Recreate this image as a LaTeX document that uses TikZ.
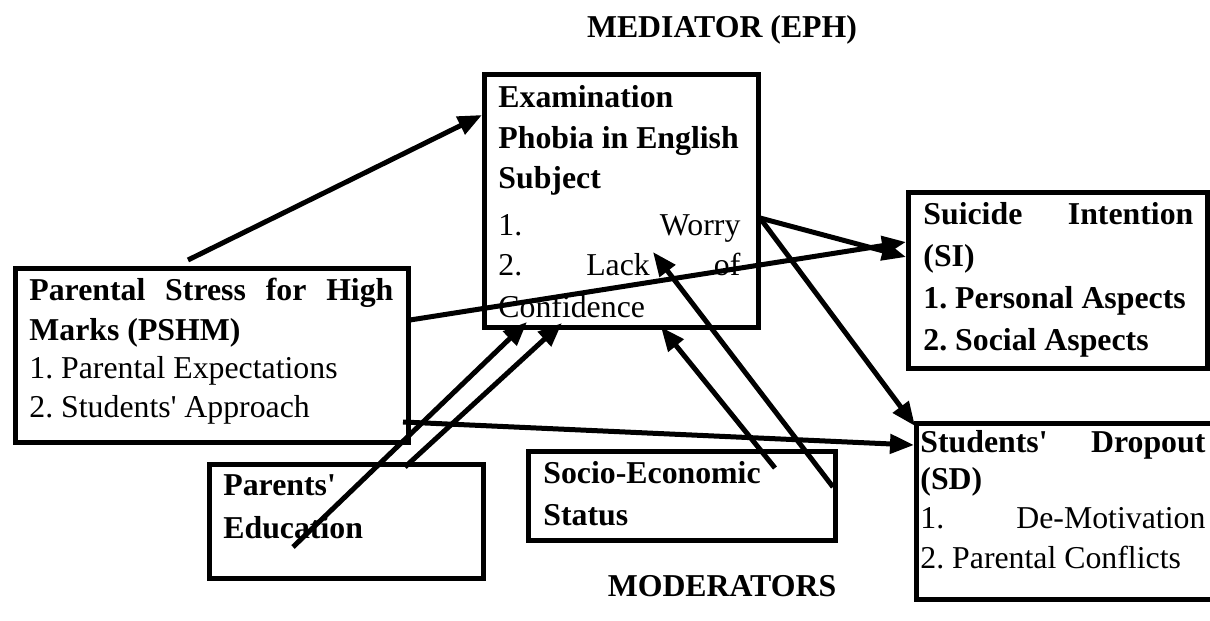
\documentclass[tikz,border=0pt]{standalone}
\usepackage{fontspec}
\setmainfont{Liberation Serif}[Ligatures=TeXOff]
\usetikzlibrary{arrows.meta}
\begin{document}
\frenchspacing
\begin{tikzpicture}[x=0.5pt,y=-0.5pt,
  box/.style={draw=black,line width=2.5pt,inner sep=0pt,outer sep=0pt,rectangle},
  tr/.style={anchor=base west,inner sep=0pt,font=\fontsize{15.9pt}{19pt}\selectfont\frenchspacing},
  tb/.style={tr,font=\fontsize{15.9pt}{19pt}\selectfont\bfseries\frenchspacing},
  conn/.style={line width=2.5pt,-{Triangle[length=12pt,width=9.5pt]}}]
\useasboundingbox (0,0) rectangle (1210,621);
% boxes
\node[box,minimum width=137pt,minimum height=126.5pt] (eph) at (621,200.5) {};
\node[box,minimum width=196.5pt,minimum height=87pt] (pshm) at (211.5,355) {};
\node[box,minimum width=149.5pt,minimum height=88pt] (si) at (1057.5,280) {};
\node[box,minimum width=152pt,minimum height=88pt] (sd) at (1068,511) {};
\node[box,minimum width=137pt,minimum height=57pt] (pe) at (346,521) {};
\node[box,minimum width=153.5pt,minimum height=44.75pt] (se) at (681.5,495.75) {};
% titles
\node[tb,anchor=base] (med) at (722,37) {MEDIATOR (EPH)};
\node[tb,anchor=base] (mod) at (722,596) {MODERATORS};
% EPH text
\node[tb] (eph1) at (498,107) {Examination};
\node[tb] (eph2) at (498,148) {Phobia in English};
\node[tb] (eph3) at (498,188) {Subject};
\node[tr] (eph4) at (498,235) {\hbox to 121pt{1.\hfill Worry}};
\node[tr] (eph5) at (498,275) {\hbox to 121pt{2.\hfill Lack\hfill of}};
\node[tr] (eph6) at (498,317) {Confidence};
% PSHM text
\node[tb] (ps1) at (29,300) {\hbox to 182pt{Parental\hfill Stress\hfill for\hfill High}};
\node[tb] (ps2) at (29,340) {Marks (PSHM)};
\node[tr] (ps3) at (29,378) {1. Parental Expectations};
\node[tr] (ps4) at (29,417) {2. Students' Approach};
% SI text
\node[tb] (si1) at (923,224) {\hbox to 135pt{Suicide\hfill Intention}};
\node[tb] (si2) at (923,266) {(SI)};
\node[tb] (si3) at (923,308) {1. Personal Aspects};
\node[tb] (si4) at (923,350) {2. Social Aspects};
% SD text
\node[tb] (sd1) at (920,452) {\hbox to 142.5pt{Students'\hfill Dropout}};
\node[tb] (sd2) at (920,489) {(SD)};
\node[tr] (sd3) at (920,528) {\hbox to 142.5pt{1.\hfill De-Motivation}};
\node[tr] (sd4) at (920,568) {2. Parental Conflicts};
% Parents' Education
\node[tb] (pe1) at (223,495) {Parents'};
\node[tb] (pe2) at (223,538) {Education};
% Socio-Economic
\node[tb] (se1) at (543,483) {Socio-Economic};
\node[tb] (se2) at (543,525) {Status};
% connector end points
\coordinate (a1s) at (188,260);  \coordinate (a1e) at (482,115);
\coordinate (a2s) at (410,320);  \coordinate (a2e) at (906,242);
\coordinate (wor) at (760,218);
\coordinate (a3e) at (906,257);
\coordinate (a4e) at (915,426);
\coordinate (a5s) at (833,487);  \coordinate (a5e) at (653,252);
\coordinate (a6s) at (775,468);  \coordinate (a6e) at (661,327);
\coordinate (a7s) at (293,547);  \coordinate (a7e) at (527,322);
\coordinate (a8s) at (405,467);  \coordinate (a8e) at (562,323);
\coordinate (a9s) at (403,422);  \coordinate (a9e) at (914,445);
% connectors
\draw[conn] (a1s) -- (a1e);
\draw[conn] (a2s) -- (a2e);
\draw[conn] (wor) -- (a3e);
\draw[conn] (wor) -- (a4e);
\draw[conn] (a5s) -- (a5e);
\draw[conn] (a6s) -- (a6e);
\draw[conn] (a7s) -- (a7e);
\draw[conn] (a8s) -- (a8e);
\draw[conn] (a9s) -- (a9e);
\end{tikzpicture}
\end{document}
